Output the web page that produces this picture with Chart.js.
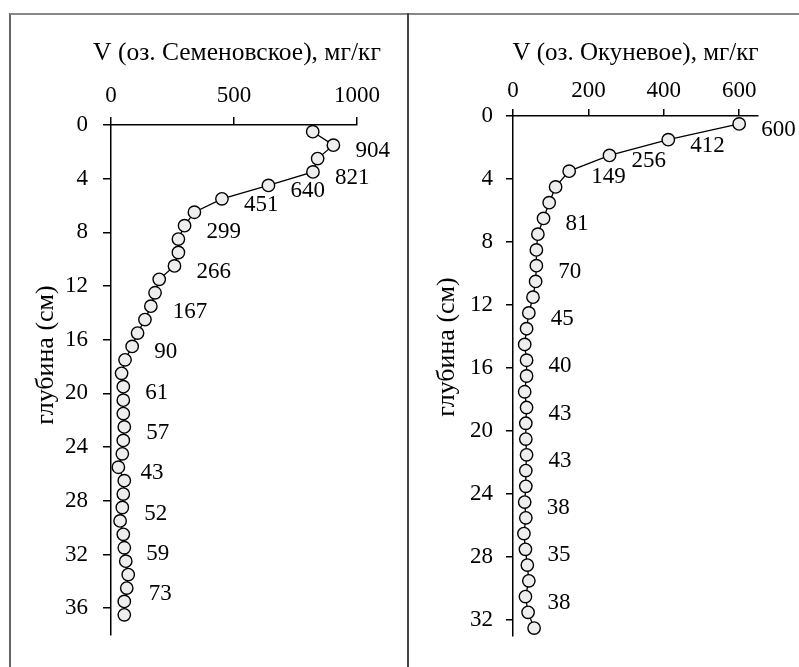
<!DOCTYPE html>
<html>
<head>
<meta charset="utf-8">
<script src="https://cdn.jsdelivr.net/npm/chart.js@4.4.0/dist/chart.umd.min.js"></script>
<style>
	body { margin: 0; background: #fff; overflow: hidden; }
	#quadro { position: absolute; left: 9px; top: 13px; width: 800px; height: 700px; border-left: 2px solid #666; border-top: 2px solid #888; }
	#divisor { position: absolute; left: 407px; top: 13px; width: 2px; height: 700px; background: #444; }
	canvas { position: absolute; top: 15px; }
</style>
</head>
<body>
<div id="quadro"></div>
<div id="divisor"></div>
<canvas id="graficoSemenovskoe" width="396" height="652" style="left:11px"></canvas>
<canvas id="graficoOkunevoe" width="390" height="652" style="left:409px"></canvas>
<script>
// оз. Семеновское
var profSemenovskoe = [0.5, 1.5, 2.5, 3.5, 4.5, 5.5, 6.5, 7.5, 8.5, 9.5, 10.5, 11.5, 12.5, 13.5, 14.5, 15.5, 16.5, 17.5, 18.5,
	19.5, 20.5, 21.5, 22.5, 23.5, 24.5, 25.5, 26.5, 27.5, 28.5, 29.5, 30.5, 31.5, 32.5, 33.5, 34.5, 35.5, 36.5];
var vSemenovskoe = [820, 904, 840, 821, 640, 451, 339, 299, 274, 274, 258, 196, 179, 162, 138, 108, 86, 57, 43,
	50, 50, 50, 54, 50, 46, 30, 54, 50, 46, 37, 50, 54, 60, 70, 64, 54, 54];
var rotuloIdxSemenovskoe = [1, 3, 4, 5, 7, 10, 13, 16, 19, 22, 25, 28, 31, 34];
var rotuloTxtSemenovskoe = ['904', '821', '640', '451', '299', '266', '167', '90', '61', '57', '43', '52', '59', '73'];

// оз. Окуневое
var profOkunevoe = [0.5, 1.5, 2.5, 3.5, 4.5, 5.5, 6.5, 7.5, 8.5, 9.5, 10.5, 11.5, 12.5, 13.5, 14.5, 15.5, 16.5,
	17.5, 18.5, 19.5, 20.5, 21.5, 22.5, 23.5, 24.5, 25.5, 26.5, 27.5, 28.5, 29.5, 30.5, 31.5, 32.5];
var vOkunevoe = [600, 412, 256, 149, 113, 96, 81, 66, 62, 62, 60, 53, 42, 36, 31, 36, 36,
	31, 36, 34, 34, 36, 34, 34, 31, 34, 29, 33, 38, 42, 33, 40, 56];
var rotuloIdxOkunevoe = [0, 1, 2, 3, 6, 9, 12, 15, 18, 21, 24, 27, 30];
var rotuloTxtOkunevoe = ['600', '412', '256', '149', '81', '70', '45', '40', '43', '43', '38', '35', '38'];

var FONTE = '"Liberation Serif", "Times New Roman", serif';

var pluginRotulos = {
	id: 'rotulos',
	afterDatasetsDraw: function(chart, args, opts) {
		var ctx = chart.ctx;
		var area = chart.chartArea;
		var pontos = chart.getDatasetMeta(0).data;
		ctx.save();
		ctx.font = '23px ' + FONTE;
		ctx.fillStyle = '#000';
		ctx.textAlign = 'left';
		ctx.textBaseline = 'middle';
		opts.indices.forEach(function(i, k) {
			ctx.fillText(opts.textos[k], pontos[i].x + 22, pontos[i].y + 6);
		});
		// заголовок (без сжатия по ширине оси)
		ctx.font = opts.fonteTitulo + 'px ' + FONTE;
		ctx.textAlign = 'center';
		ctx.fillText(opts.titulo, (area.left + area.right) / 2 + opts.deslocTitulo, 38);
		// подпись оси глубины
		ctx.font = '26px ' + FONTE;
		ctx.translate(opts.tituloX, opts.tituloY);
		ctx.rotate(-Math.PI / 2);
		ctx.fillText('глубина (см)', 0, 0);
		ctx.restore();
	}
};

function criarGrafico(id, prof, valores, titulo, xMax, xPasso, yMax, medidas) {
	var ctx = document.getElementById(id).getContext('2d');
	var pontos = valores.map(function(v, i) { return { x: v, y: prof[i] }; });
	return new Chart(ctx, {
		type: 'scatter',
		data: {
			datasets: [{
				data: pontos,
				showLine: true,
				borderColor: '#000',
				borderWidth: 1.3,
				pointRadius: 6.2,
				pointBackgroundColor: '#eeeeee',
				pointBorderColor: '#000',
				pointBorderWidth: 1.4,
				clip: false
			}]
		},
		plugins: [pluginRotulos],
		options: {
			responsive: false,
			animation: false,
			layout: { padding: { left: 0, top: 0, right: medidas.direita, bottom: medidas.baixo } },
			plugins: {
				legend: { display: false },
				tooltip: { enabled: false },
				rotulos: {
					indices: medidas.idx, textos: medidas.txt, tituloX: medidas.tx, tituloY: medidas.ty,
					titulo: titulo, fonteTitulo: medidas.fonteTitulo, deslocTitulo: medidas.deslocTitulo
				}
			},
			scales: {
				x: {
					type: 'linear',
					position: 'top',
					min: 0,
					max: xMax,
					afterFit: function(s) { s.height = medidas.altX; },
					ticks: {
						stepSize: xPasso, includeBounds: false, color: '#000', padding: medidas.padX,
						font: { family: FONTE, size: 23 },
						callback: function(v) { return String(v); }
					},
					grid: { drawOnChartArea: false, tickLength: medidas.tick, color: '#000', lineWidth: 1.5 },
					border: { color: '#000', width: 1.5 }
				},
				y: {
					type: 'linear',
					reverse: true,
					min: 0,
					max: yMax,
					afterFit: function(s) { s.width = medidas.largY; },
					ticks: { stepSize: 4, includeBounds: false, color: '#000', padding: medidas.padY, font: { family: FONTE, size: 23 } },
					grid: { drawOnChartArea: false, tickLength: medidas.tick, color: '#000', lineWidth: 1.5 },
					border: { color: '#000', width: 1.5 }
				}
			}
		}
	});
}

criarGrafico('graficoSemenovskoe', profSemenovskoe, vSemenovskoe, 'V (оз. Семеновское), мг/кг', 1000, 500, 38, {
	direita: 50, baixo: 32, altX: 110, largY: 100, padX: 7, padY: 15, tick: 8, fonteTitulo: 25.5, deslocTitulo: 3,
	idx: rotuloIdxSemenovskoe, txt: rotuloTxtSemenovskoe, tx: 35, ty: 340
});

criarGrafico('graficoOkunevoe', profOkunevoe, vOkunevoe, 'V (оз. Окуневое), мг/кг', 650, 200, 33, {
	direita: 41, baixo: 31, altX: 101, largY: 104, padX: 4, padY: 13, tick: 7, fonteTitulo: 25, deslocTitulo: 0,
	idx: rotuloIdxOkunevoe, txt: rotuloTxtOkunevoe, tx: 38, ty: 332
});
</script>
</body>
</html>
